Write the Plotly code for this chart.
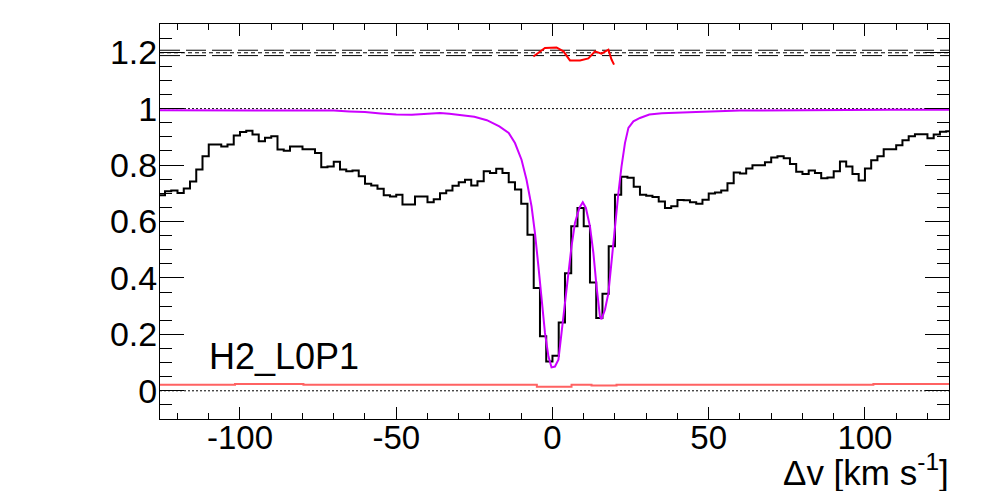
import plotly.graph_objects as go

# black data histogram, bin centres (2 km/s bins) and flux
bin_centres = list(range(-125, 128, 2))
flux = [0.693, 0.707, 0.710, 0.701, 0.717, 0.742, 0.784, 0.831, 0.873, 0.873,
        0.866, 0.873, 0.905, 0.917, 0.922, 0.908, 0.884, 0.897, 0.902, 0.855,
        0.851, 0.866, 0.866, 0.856, 0.856, 0.843, 0.792, 0.795, 0.812, 0.784,
        0.778, 0.781, 0.760, 0.734, 0.728, 0.716, 0.693, 0.689, 0.695, 0.660,
        0.660, 0.689, 0.689, 0.668, 0.679, 0.700, 0.710, 0.727, 0.739, 0.748,
        0.728, 0.743, 0.778, 0.772, 0.787, 0.772, 0.739, 0.713, 0.663, 0.553,
        0.364, 0.193, 0.104, 0.124, 0.242, 0.417, 0.583, 0.648, 0.583, 0.384,
        0.258, 0.344, 0.512, 0.695, 0.759, 0.755, 0.723, 0.695, 0.691, 0.687,
        0.671, 0.648, 0.654, 0.676, 0.675, 0.668, 0.663, 0.677, 0.699, 0.703,
        0.710, 0.736, 0.774, 0.770, 0.788, 0.799, 0.799, 0.810, 0.827, 0.831,
        0.824, 0.804, 0.776, 0.768, 0.781, 0.772, 0.753, 0.756, 0.778, 0.813,
        0.795, 0.768, 0.745, 0.788, 0.817, 0.831, 0.856, 0.856, 0.870, 0.888,
        0.902, 0.909, 0.909, 0.895, 0.908, 0.918, 0.920]

# magenta model profile
model_v = [-126, -100, -75, -70, -65, -60, -55, -50, -45, -40, -36, -33, -28,
           -25, -21, -17, -14, -12, -9.9, -8.3, -6.7, -5.6, -4.5, -3.5, -2.4,
           -1.3, -0.3, 0.8, 1.9, 2.9, 4.0, 5.1, 6.1, 7.2, 8.6, 9.7, 10.7, 12.0,
           13.1, 14.1, 15.2, 15.7, 16.8, 17.9, 18.9, 20.0, 21.1, 22.1, 23.2,
           24.3, 25.9, 28, 31, 35, 39, 46, 60, 80, 108, 127]
model_f = [0.994, 0.994, 0.994, 0.993, 0.990, 0.988, 0.983, 0.979, 0.978,
           0.983, 0.985, 0.982, 0.975, 0.971, 0.959, 0.937, 0.914, 0.878,
           0.819, 0.748, 0.654, 0.559, 0.441, 0.323, 0.205, 0.122, 0.083,
           0.086, 0.110, 0.205, 0.311, 0.417, 0.512, 0.595, 0.648, 0.668,
           0.648, 0.583, 0.488, 0.370, 0.263, 0.254, 0.287, 0.346, 0.465,
           0.583, 0.701, 0.795, 0.878, 0.932, 0.955, 0.967, 0.979, 0.984,
           0.986, 0.988, 0.993, 0.995, 0.996, 0.996]

# red trace near zero
low_v = [-126, -101.6, -79.7, -5, 6.1, 12.5, 20.5, 102.7, 127]
low_f = [0.021, 0.024, 0.021, 0.014, 0.021, 0.019, 0.021, 0.024, 0.024]

# red residual trace near 1.2
res_v = [-6.1, -2.4, 1.3, 3.5, 5.6, 8.8, 11.5, 13.6, 15.7, 17.9, 18.9, 19.7]
res_f = [1.185, 1.215, 1.217, 1.203, 1.171, 1.171, 1.178, 1.203, 1.195,
         1.209, 1.174, 1.156]

band_mid = 1.198
band_lo = 1.188
band_hi = 1.207

x_lo, x_hi = -125.6, 126.9

edges = [c - 1 for c in bin_centres] + [bin_centres[-1] + 1]

fig = go.Figure()

fig.add_trace(go.Scatter(x=[x_lo, x_hi], y=[0, 0], mode="lines",
                         line=dict(color="black", width=1, dash="2px,2px")))
fig.add_trace(go.Scatter(x=[x_lo, x_hi], y=[1, 1], mode="lines",
                         line=dict(color="black", width=1, dash="2px,2px")))
for lvl, dash in [(band_hi, "20px,6px"), (band_mid, "4px,3px"), (band_lo, "20px,6px")]:
    fig.add_trace(go.Scatter(x=[x_lo, x_hi], y=[lvl, lvl], mode="lines",
                             line=dict(color="black", width=1, dash=dash)))

fig.add_trace(go.Scatter(x=edges, y=flux + [flux[-1]], mode="lines",
                         line=dict(color="black", width=2, shape="hv")))
fig.add_trace(go.Scatter(x=low_v, y=low_f, mode="lines",
                         line=dict(color="#ff6262", width=2, shape="hv")))
fig.add_trace(go.Scatter(x=model_v, y=model_f, mode="lines",
                         line=dict(color="#cc00ff", width=2)))
fig.add_trace(go.Scatter(x=res_v, y=res_f, mode="lines",
                         line=dict(color="#ff0000", width=2)))

fig.update_xaxes(range=[x_lo, x_hi], showline=True, linecolor="black", linewidth=1,
                 mirror="ticks", ticks="inside", ticklen=12, tickcolor="black",
                 tickvals=[-100, -50, 0, 50, 100],
                 ticktext=["-100", "-50", "0", "50", "100"],
                 ticklabelstandoff=-11,
                 minor=dict(ticks="inside", ticklen=6, dtick=10, tick0=0,
                            tickcolor="black", showgrid=False),
                 showgrid=False, zeroline=False,
                 tickfont=dict(family="Liberation Sans", size=33, color="black"))
fig.update_yaxes(range=[-0.1, 1.3], showline=True, linecolor="black", linewidth=1,
                 mirror="ticks", ticks="inside", ticklen=24, tickcolor="black",
                 dtick=0.2, tick0=0, ticklabelstandoff=-5,
                 minor=dict(ticks="inside", ticklen=12, dtick=0.05, tick0=0,
                            tickcolor="black", showgrid=False),
                 showgrid=False, zeroline=False,
                 tickfont=dict(family="Liberation Sans", size=34, color="black"))

fig.add_annotation(text="H2_L0P1", x=0.059, xref="paper", y=0.123, yref="y",
                   xanchor="left", yanchor="middle", showarrow=False,
                   font=dict(family="Liberation Sans", size=36, color="black"))
fig.add_annotation(text="Δv [km s<sup>-1</sup>]", x=1.002, xref="paper", y=-0.129,
                   yref="paper", xanchor="right", yanchor="middle", showarrow=False,
                   font=dict(family="Liberation Sans", size=35, color="black"))

# the page body adds an 8px margin, so the figure is kept 16px smaller
fig.update_layout(width=982, height=483, showlegend=False,
                  margin=dict(l=152, r=41, t=16, b=72),
                  paper_bgcolor="white", plot_bgcolor="white")

fig.write_html("out.html")
